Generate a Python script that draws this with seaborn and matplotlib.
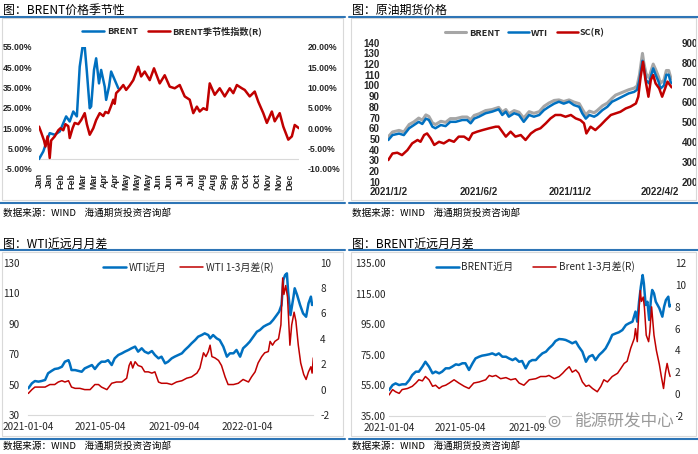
import pandas as pd
import matplotlib
matplotlib.use("Agg")
import matplotlib.pyplot as plt
from matplotlib.lines import Line2D
from matplotlib.patches import Rectangle
import seaborn as sns

# ---------------- data ----------------
# panel 1: BRENT seasonality, x = day of year
season_months = ['Jan', 'Jan', 'Feb', 'Feb', 'Mar', 'Mar', 'Apr', 'Apr', 'May', 'May', 'May', 'Jun',
                 'Jun', 'Jul', 'Jul', 'Aug', 'Aug', 'Sep', 'Sep', 'Oct', 'Oct', 'Nov', 'Nov', 'Dec']
brent_ytd_day = [1, 7, 11, 16, 23, 30, 35, 39, 44, 49, 54, 58, 62, 65, 68, 72, 74, 78, 81, 85, 88,
                 93, 95, 99, 102, 107, 112]
brent_ytd_pct = [-0.1, 3.6, 7.7, 12.6, 11.8, 13.4, 17.5, 20.8, 18.3, 23.2, 20.8, 45.2, 55, 55, 42.8,
                 24.8, 25.7, 43.6, 49.3, 37, 43.6, 35.4, 28.9, 35.4, 42.8, 38.7, 34.6]
season_idx_day = [1, 4, 8, 10, 13, 16, 18, 23, 28, 31, 35, 38, 42, 44, 48, 51, 56, 60, 65, 68, 72,
                  77, 81, 86, 91, 94, 98, 102, 105, 107, 109, 114, 119, 123, 128, 133, 140, 144, 149,
                  156, 162, 170, 177, 184, 191, 198, 205, 212, 217, 222, 226, 231, 236, 240, 247, 254,
                  261, 268, 273, 278, 285, 289, 296, 303, 308, 315, 320, 327, 331, 338, 343, 350, 355,
                  359, 365]
season_idx_pct = [0.4, -1, -3, -4.5, -2, -7.3, -3, -2, -0.5, 0, -0.5, 1, 0.5, -2.4, 0, 1.3, 1, 2, 3.7,
                  1, -1.6, 0, 2, 3.7, 3, 4, 3.7, 5.5, 7, 6, 8.6, 9.5, 10.6, 9.4, 10.5, 11.8, 15.1, 12.7,
                  13.9, 11.8, 14.7, 11, 13, 10.2, 9.8, 10.6, 7.8, 7, 3.7, 5.3, 4.1, 4.9, 4.5, 11, 8.2,
                  9.8, 7.8, 9.8, 8.6, 10.6, 9.8, 9.4, 7.8, 9, 6.5, 3.7, 1.3, 4.1, 1.7, 3.7, 0.4, -2.8,
                  -2, 0.8, 0]

# panel 2: crude futures, x = days after 2021-01-02
fut_start = '2021-01-02'
fut_day = [0, 7, 18, 26, 35, 43, 51, 57, 63, 68, 74, 79, 88, 96, 104, 113, 124, 132, 138, 144, 152,
           163, 174, 185, 191, 197, 202, 211, 219, 227, 236, 244, 253, 261, 269, 278, 286, 294, 303,
           311, 320, 325, 331, 337, 345, 350, 359, 367, 375, 381, 392, 403, 412, 417, 421, 426, 428,
           432, 437, 440, 444, 448, 453, 456, 462, 466, 470, 473, 475]
wti_fut = [49, 53.6, 55, 53.6, 60, 63, 66, 64, 69, 67.7, 61.4, 60, 63, 62, 66, 66, 67.7, 67.7, 64.6,
           69, 70.8, 74, 75.5, 77.7, 72.4, 75.5, 70.8, 74, 72.4, 66, 72.4, 70.8, 72.4, 77, 80, 83,
           84.8, 83, 84.8, 81.7, 80, 74, 69, 72.4, 70.8, 72.4, 77, 80, 84.8, 86.4, 89.5, 92.6, 94, 96,
           105, 123, 117.6, 105, 102, 108, 116, 110, 103.5, 97, 100, 110, 110, 103.5, 102]
brent_fut = [52, 56.5, 58, 56.5, 63.5, 66, 69.5, 67.5, 72.5, 71, 65, 63.5, 66.5, 65.5, 69, 69, 70.5,
             70.5, 68, 72, 73.5, 76.5, 77.5, 79.5, 75, 77.5, 73.5, 76.5, 75, 69.5, 75.5, 74, 75.5,
             80.5, 83.5, 86, 86.5, 85, 86.5, 84.5, 83, 78, 72.5, 76, 74.5, 76.5, 81, 83.5, 88, 91,
             93.5, 96, 97.5, 99.5, 110, 130, 122, 111, 107, 113, 120, 115, 108, 102, 105, 114, 114,
             108, 106]
sc_day = [0, 7, 15, 23, 32, 40, 49, 54, 60, 65, 71, 77, 85, 93, 102, 110, 118, 127, 135, 141, 149,
          158, 169, 180, 185, 191, 197, 205, 213, 222, 230, 239, 247, 255, 264, 272, 280, 289, 297,
          306, 314, 322, 328, 332, 339, 347, 356, 364, 373, 381, 389, 398, 406, 415, 419, 423, 427,
          431, 436, 440, 444, 448, 454, 459, 464, 468, 472, 475]
sc_fut = [309, 342, 346, 334, 359, 393, 410, 401, 435, 443, 418, 385, 401, 393, 410, 401, 427, 427,
          410, 443, 452, 460, 469, 477, 477, 452, 427, 452, 427, 435, 410, 443, 460, 469, 494, 519,
          536, 536, 527, 536, 519, 510, 494, 443, 477, 460, 485, 510, 536, 544, 552, 569, 578, 594,
          628, 729, 804, 712, 628, 712, 737, 695, 670, 628, 670, 704, 687, 675]

# panel 3: WTI front month and 1-3 spread, x = days after 2021-01-04
spread_start = '2021-01-04'
wti_m1_day = [0, 6, 11, 17, 22, 28, 33, 39, 44, 50, 56, 61, 67, 69, 72, 78, 83, 89, 94, 100, 106,
              111, 117, 122, 128, 133, 139, 144, 150, 156, 161, 167, 172, 178, 183, 189, 194, 200,
              206, 211, 217, 222, 228, 233, 239, 244, 250, 256, 261, 267, 272, 278, 283, 289, 294,
              300, 303, 308, 314, 319, 325, 331, 336, 342, 347, 353, 358, 364, 369, 375, 381, 386,
              392, 397, 403, 408, 414, 418, 422, 425, 428, 431, 433, 437, 442, 444, 448, 453, 458,
              463, 467, 471, 473, 475]
wti_m1 = [47.5, 50.8, 52.3, 51.9, 52.3, 53, 57.4, 59, 60.2, 60.6, 61.7, 65, 66, 63.9, 59.5, 59.5, 59,
          58.4, 60.6, 61.7, 62.8, 60.2, 63.3, 65, 65, 66, 62.8, 67.2, 69.4, 70.5, 71.6, 72.7, 73.8,
          74.9, 71.6, 73.8, 71.6, 70.5, 72, 69.4, 67.2, 68.3, 63.9, 65, 67.2, 68.3, 69.4, 70.5, 72.7,
          74.9, 77, 79.2, 81.4, 82.5, 83.6, 82.5, 80.3, 82.5, 80.3, 79.2, 74.9, 68.3, 70.5, 70.5,
          72.7, 68.3, 73.8, 76, 78.1, 81.4, 84.7, 85.8, 88, 89.1, 90.2, 92.4, 95.6, 97.8, 102.2,
          118.6, 121.9, 123, 111, 95.6, 107.7, 113.2, 108.8, 102.2, 96.7, 94.5, 103.3, 107.7, 102.2,
          103.3]
wti_sp_day = [0, 6, 11, 19, 28, 36, 44, 50, 56, 61, 67, 72, 78, 86, 94, 103, 111, 117, 122, 131,
              139, 147, 156, 164, 168, 171, 174, 178, 183, 189, 194, 200, 206, 211, 217, 222, 231,
              239, 247, 256, 264, 272, 281, 286, 292, 296, 300, 303, 306, 311, 317, 322, 328, 333,
              342, 350, 358, 367, 372, 378, 383, 389, 394, 400, 403, 407, 411, 417, 421, 424, 426,
              429, 432, 436, 439, 443, 446, 450, 454, 459, 463, 467, 471, 473, 475]
wti_sp = [-0.3, 0, 0.2, 0.2, 0.2, 0.4, 0.4, 0.6, 0.7, 0.6, 0.7, 0.2, 0.1, 0.1, 0, 0, 0.4, 0.4, 0.2, 0,
          0.5, 0.6, 0.6, 0.9, 1.9, 2.2, 1.7, 2.2, 1.9, 1.8, 1.4, 1.4, 1.3, 1.4, 0.6, 0.5, 0.5, 0.4,
          0.6, 0.7, 0.9, 1, 1.3, 1.7, 2.9, 2.6, 3, 3.5, 2.6, 2.5, 2.3, 1.9, 1, 0.4, 0.4, 0.5, 0.8,
          0.6, 1, 1.4, 2.1, 2.6, 2.9, 3, 3.8, 3.5, 3.8, 4, 5.1, 8.8, 7.5, 8.2, 7.3, 3.5, 5.1, 6.1,
          5.4, 3.5, 2.1, 1.2, 0.8, 1.4, 1.8, 1.3, 2.5]

# panel 4: BRENT front month and 1-3 spread, x = days after 2021-01-04
brent_m1_day = [0, 6, 11, 17, 22, 28, 34, 39, 45, 50, 56, 61, 67, 73, 78, 84, 89, 95, 101, 106, 112,
                117, 123, 128, 134, 140, 145, 151, 156, 162, 168, 173, 179, 184, 190, 196, 201, 207,
                212, 218, 223, 229, 235, 240, 246, 251, 257, 263, 268, 274, 279, 285, 291, 296, 302,
                307, 313, 318, 324, 330, 335, 341, 346, 352, 358, 363, 369, 374, 380, 385, 391, 397,
                402, 408, 413, 416, 419, 422, 425, 427, 430, 433, 436, 439, 441, 444, 447, 453, 458,
                461, 464, 468, 470, 472]
brent_m1 = [51.8, 55.1, 56.2, 55.1, 55.6, 55.6, 58.4, 61.7, 63.9, 63.9, 67.2, 70.4, 67.2, 62.8, 63.9,
            62.8, 63.9, 66.1, 66.1, 67.2, 68.7, 68.3, 69.4, 69.4, 65, 69.4, 72.6, 73.7, 74.4, 74.8,
            75.3, 75.9, 74.8, 75.9, 73.7, 73.7, 72.6, 71.5, 72.6, 70.4, 70.9, 66.1, 70.4, 71.5, 71.5,
            73.7, 75.9, 77, 79.2, 81.4, 84, 85.3, 85.1, 84.7, 83.6, 82.5, 83.6, 80.3, 77, 70.4, 73.7,
            74.8, 71.5, 74.8, 77, 79.2, 83.6, 88, 89, 89.7, 91.2, 94.5, 95.6, 96.7, 103.3, 96.7,
            109.8, 119.7, 127.3, 121.9, 107.6, 109.8, 97.8, 112, 117.5, 115.3, 109.8, 105.5, 100,
            106.6, 110.9, 113.1, 106.6, 107.6]
brent_sp_day = [0, 6, 11, 17, 22, 31, 39, 45, 50, 56, 61, 67, 73, 78, 84, 89, 95, 101, 109, 117, 126,
                134, 142, 151, 162, 168, 173, 179, 187, 196, 204, 212, 218, 226, 235, 246, 254, 263,
                268, 277, 285, 291, 296, 302, 307, 313, 318, 324, 330, 335, 341, 349, 355, 360, 366,
                374, 383, 388, 394, 399, 405, 411, 413, 416, 419, 421, 423, 426, 428, 431, 435, 437,
                440, 444, 448, 453, 456, 460, 463, 466, 469, 471]
brent_sp = [-0.1, 0.4, 0.2, 0.05, 0.4, 0.5, 0.7, 1, 1.3, 1.2, 1.6, 1.3, 0.7, 0.8, 0.5, 0.7, 0.8, 1,
            1.3, 1, 0.7, 0.5, 1, 1.1, 1.3, 1.7, 1.6, 1.7, 1.4, 1.5, 1.3, 1.4, 1, 0.8, 1.3, 1.4, 1.6,
            1.6, 1.7, 1.4, 1.6, 1.9, 2.2, 2.5, 2, 2.2, 1.9, 1.1, 0.7, 0.8, 0.5, 0.2, 0.7, 1.3, 1.1,
            1.6, 1.9, 2.3, 2.8, 3, 4.2, 5.1, 6, 4.8, 7.9, 9.5, 8.5, 8.9, 7.9, 5.4, 4.8, 5.7, 8, 5.4,
            4, 2.7, 1.7, 0.5, 1.9, 2.8, 2, 1.6]

# ---------------- style ----------------
sns.set_style("white")
plt.rcParams['font.family'] = ['Noto Sans CJK SC', 'DejaVu Sans']
plt.rcParams['axes.unicode_minus'] = False

BLUE = '#0070c0'
RED = '#c00000'
GRAY = '#a6a6a6'
RULE = '#2e75b6'
BOXC = '#d9d9d9'
TXT = '#000000'
NUM = ['Liberation Sans', 'DejaVu Sans']   # tick numbers

W, H = 698, 454
fig = plt.figure(figsize=(W / 100, H / 100), dpi=100)


def fx(x):
    return x / W


def fy(y):
    return 1 - y / H


def px_axes(x0, y0, x1, y1):
    return fig.add_axes([fx(x0), fy(y1), (x1 - x0) / W, (y1 - y0) / H])


def frame(x0, x1, y_title, y_rule, y_box, y_rule2, y_src, title):
    fig.text(fx(x0 + 3), fy(y_title), title, fontsize=8.6, ha='left', va='center', color=TXT,
             fontweight='medium')
    fig.add_artist(Line2D([fx(x0), fx(x1)], [fy(y_rule)] * 2, color=RULE, lw=1.5))
    fig.add_artist(Rectangle((fx(x0 + 2), fy(y_box)), (x1 - x0 - 4) / W, (y_box - y_rule - 1.5) / H,
                             transform=fig.transFigure, fill=False, ec=BOXC, lw=0.8))
    fig.add_artist(Line2D([fx(x0), fx(x1)], [fy(y_rule2)] * 2, color=RULE, lw=1.5))
    fig.text(fx(x0 + 3), fy(y_src), '数据来源：WIND    海通期货投资咨询部', fontsize=6.9,
             ha='left', va='center', color=TXT, fontweight='medium')


def clean(ax):
    for s in ax.spines.values():
        s.set_visible(False)
    ax.grid(False)
    ax.set_xlabel('')
    ax.set_ylabel('')


def legend(ax, axr, cx, cy, weight='normal', size=7, hl=2.3, cs=1.2):
    h1, l1 = ax.get_legend_handles_labels()
    h2, l2 = axr.get_legend_handles_labels()
    fig.legend(h1 + h2, l1 + l2, loc='center', bbox_to_anchor=(fx(cx), fy(cy)), ncol=len(h1 + h2),
               frameon=False, handlelength=hl, columnspacing=cs, handletextpad=0.25,
               borderaxespad=0, borderpad=0, prop={'size': size, 'weight': weight})


def dates(start, days):
    return pd.Timestamp(start) + pd.to_timedelta(days, unit='D')


frame(0, 345, 10.5, 16.5, 200, 203, 213, '图：BRENT价格季节性')
frame(349, 698, 10.5, 16.5, 200, 203, 213, '图：原油期货价格')
frame(0, 345, 244, 250, 436, 438.5, 446.5, '图：WTI近远月月差')
frame(349, 698, 244, 250, 436, 438.5, 446.5, '图：BRENT近远月月差')

# ---------------- panel 1 ----------------
ax = px_axes(39, 46.7, 299, 169)
axr = ax.twinx()
sns.lineplot(x=brent_ytd_day, y=brent_ytd_pct, ax=ax, color=BLUE, lw=1.8, label='BRENT', legend=False)
sns.lineplot(x=season_idx_day, y=season_idx_pct, ax=axr, color=RED, lw=1.8,
             label='BRENT季节性指数(R)', legend=False)
ax.set_xlim(1, 365)
ax.set_ylim(-5, 55)
axr.set_ylim(-10, 20)
ax.axhline(0, color=BOXC, lw=0.8, zorder=0)
lt = list(range(-5, 56, 10))
ax.set_yticks(lt, [f'{v:.2f}%' for v in lt], fontsize=6.2, fontweight='bold', family=NUM)
rt = list(range(-10, 21, 5))
axr.set_yticks(rt, [f'{v:.2f}%' for v in rt], fontsize=6.2, fontweight='bold', family=NUM)
xt = [1 + i * 351 / 23 for i in range(24)]
ax.set_xticks(xt, season_months, rotation=90, fontsize=6.4, fontweight='bold', family=NUM)
ax.tick_params(axis='y', length=0, pad=5)
ax.tick_params(axis='x', length=0, pad=3)
axr.tick_params(axis='y', length=0, pad=6)
clean(ax)
clean(axr)
legend(ax, axr, 172, 31, weight='bold', size=6.6, hl=2.4, cs=1.1)

# ---------------- panel 2 ----------------
ax = px_axes(388.3, 42.7, 671.7, 181.7)
axr = ax.twinx()
fd = dates(fut_start, fut_day)
sns.lineplot(x=fd, y=brent_fut, ax=ax, color=GRAY, lw=2.2, label='BRENT', legend=False)
sns.lineplot(x=fd, y=wti_fut, ax=ax, color=BLUE, lw=1.8, label='WTI', legend=False)
sns.lineplot(x=dates(fut_start, sc_day), y=sc_fut, ax=axr, color=RED, lw=1.8, label='SC(R)',
             legend=False)
ax.set_xlim(pd.Timestamp(fut_start), pd.Timestamp(fut_start) + pd.Timedelta(days=475))
ax.set_ylim(10, 140)
axr.set_ylim(200, 900)
ax.set_yticks(range(10, 141, 10), [str(v) for v in range(10, 141, 10)], fontsize=7,
              fontweight='bold', family=NUM)
axr.set_yticks(range(200, 901, 100), [str(v) for v in range(200, 901, 100)], fontsize=7,
               fontweight='bold', family=NUM)
xd = pd.to_datetime(['2021-01-02', '2021-06-02', '2021-11-02', '2022-04-02'])
ax.set_xticks(xd, [f'{d.year}/{d.month}/{d.day}' for d in xd], fontsize=7, fontweight='bold',
              family=NUM)
ax.tick_params(axis='y', length=0, pad=6)
ax.tick_params(axis='x', length=0, pad=4)
axr.tick_params(axis='y', length=0, pad=7)
clean(ax)
clean(axr)
legend(ax, axr, 525, 33, weight='bold', size=6.6, hl=2.3, cs=0.9)

# ---------------- panel 3 ----------------
ax = px_axes(28.3, 262.7, 313.3, 415)
axr = ax.twinx()
sns.lineplot(x=dates(spread_start, wti_m1_day), y=wti_m1, ax=ax, color=BLUE, lw=1.8,
             label='WTI近月', legend=False)
sns.lineplot(x=dates(spread_start, wti_sp_day), y=wti_sp, ax=axr, color=RED, lw=1.1,
             label='WTI 1-3月差(R)', legend=False)
ax.set_xlim(pd.Timestamp(spread_start), pd.Timestamp(spread_start) + pd.Timedelta(days=475))
ax.set_ylim(30, 130)
axr.set_ylim(-2, 10)
ax.set_yticks(range(30, 131, 20), [str(v) for v in range(30, 131, 20)], fontsize=7.2,
              fontweight='medium')
axr.set_yticks(range(-2, 11, 2), [str(v) for v in range(-2, 11, 2)], fontsize=7.2,
               fontweight='medium')
xd = pd.to_datetime(['2021-01-04', '2021-05-04', '2021-09-04', '2022-01-04'])
ax.set_xticks(xd, [d.strftime('%Y-%m-%d') for d in xd], fontsize=7.2, fontweight='medium')
ax.tick_params(axis='y', length=0, pad=6)
ax.tick_params(axis='x', length=3, width=0.8, color=BOXC, pad=2)
axr.tick_params(axis='y', length=0, pad=5)
clean(ax)
clean(axr)
ax.spines['bottom'].set_visible(True)
ax.spines['bottom'].set_color(BOXC)
legend(ax, axr, 188, 267.5, size=7.2, hl=2.3, cs=1.4)

# ---------------- panel 4 ----------------
ax = px_axes(389, 263.3, 670.7, 415.7)
axr = ax.twinx()
sns.lineplot(x=dates(spread_start, brent_m1_day), y=brent_m1, ax=ax, color=BLUE, lw=1.8,
             label='BRENT近月', legend=False)
sns.lineplot(x=dates(spread_start, brent_sp_day), y=brent_sp, ax=axr, color=RED, lw=1.1,
             label='Brent 1-3月差(R)', legend=False)
ax.set_xlim(pd.Timestamp(spread_start), pd.Timestamp(spread_start) + pd.Timedelta(days=472))
ax.set_ylim(35, 135)
axr.set_ylim(-2, 12)
ax.set_yticks(range(35, 136, 20), [f'{v:.2f}' for v in range(35, 136, 20)], fontsize=7.2,
              fontweight='medium')
axr.set_yticks(range(-2, 13, 2), [str(v) for v in range(-2, 13, 2)], fontsize=7.2,
               fontweight='medium')
ax.set_xticks(xd, [d.strftime('%Y-%m-%d') for d in xd], fontsize=7.2, fontweight='medium')
ax.tick_params(axis='y', length=0, pad=2.5)
ax.tick_params(axis='x', length=3, width=0.8, color=BOXC, pad=2)
axr.tick_params(axis='y', length=0, pad=3)
clean(ax)
clean(axr)
ax.spines['bottom'].set_visible(True)
ax.spines['bottom'].set_color(BOXC)
legend(ax, axr, 535, 267, size=7.2, hl=2.3, cs=2.0)

# watermark (covers part of the last tick labels, as in the reference)
fig.text(fx(574), fy(421.5), '能源研发中心', fontsize=12, ha='left', va='center', color='#9a9a9a',
         bbox=dict(facecolor='white', edgecolor='none', pad=1.5), zorder=10)
fig.text(fx(554), fy(421.5), '⊚', fontsize=13, ha='center', va='center', color='#9a9a9a',
         family=['DejaVu Sans'], bbox=dict(facecolor='white', edgecolor='none', pad=0.5), zorder=10)

fig.savefig('out.png', dpi=100)
